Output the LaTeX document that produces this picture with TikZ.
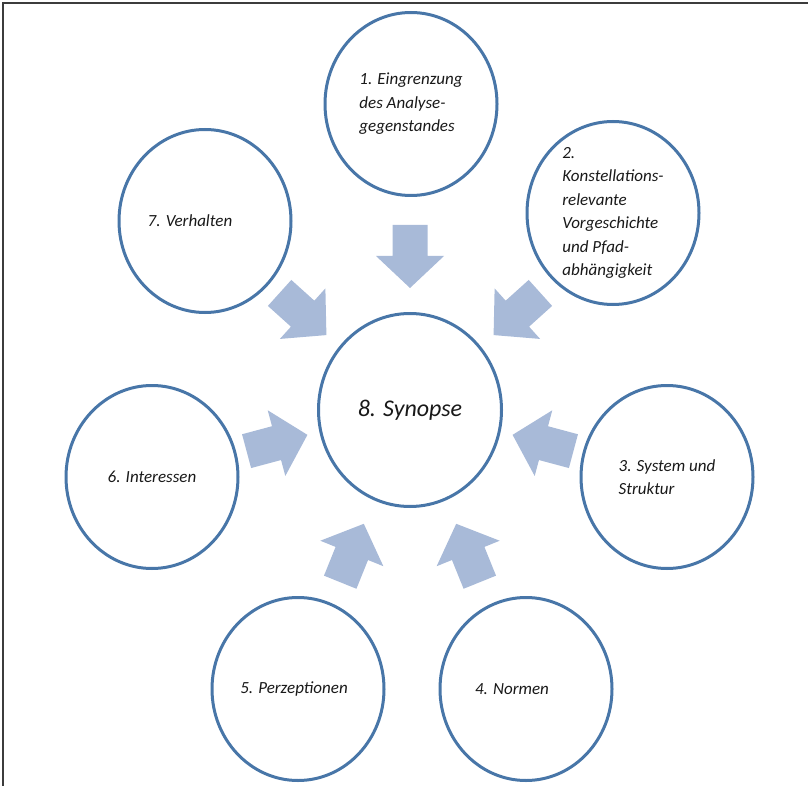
\documentclass[tikz,border=0pt]{standalone}
\usepackage{fontspec}
\setmainfont{Carlito}
\usetikzlibrary{shapes.geometric}
\definecolor{ringblue}{RGB}{72,118,168}
\definecolor{arrowblue}{RGB}{168,186,216}
\definecolor{framegray}{RGB}{60,60,60}
\tikzset{
    ring/.style={
        ellipse, draw=ringblue, line width=3pt, fill=white,
        minimum width=172pt, minimum height=183pt, inner sep=0pt,
    },
    hub/.style={
        ring, minimum width=183pt, minimum height=193pt,
    },
    txt/.style={
        font=\itshape\fontsize{17}{23.5}\selectfont, align=left, text=black!90,
    },
    pics/blockarrow/.style={
        code={
            \fill[arrowblue] (-31.5,-17.5) -- (-0.5,-17.5) -- (-0.5,-34) -- (31.5,0)
                -- (-0.5,34) -- (-0.5,17.5) -- (-31.5,17.5) -- cycle;
        }
    },
}
\begin{document}
\begin{tikzpicture}[x=1pt,y=-1pt]
    \useasboundingbox (0,0) rectangle (808,786);
    \draw[framegray,line width=2pt] (3,786) -- (3,3) -- (808,3);
    % the seven steps round the synopsis
    \node[ring,label={[txt]center:1. Eingrenzung\\des Analyse-\\gegenstandes}] (eingrenzung) at (411,104) {};
    \node[ring,label={[txt]center:2.\\Konstellations-\\relevante\\Vorgeschichte\\und Pfad-\\abhängigkeit}] (vorgeschichte) at (613,213) {};
    \node[ring,label={[txt]center:3. System und\\Struktur}] (system) at (667,477) {};
    \node[ring,label={[txt,xshift=-14pt]center:4. Normen}] (normen) at (526,689) {};
    \node[ring,label={[txt,xshift=-4pt]center:5. Perzeptionen}] (perzeption) at (298,689) {};
    \node[ring,label={[txt]center:6. Interessen}] (interessen) at (152,477) {};
    \node[ring,label={[txt,xshift=-15pt]center:7. Verhalten}] (verhalten) at (205,221) {};
    \node[hub,label={[txt,font=\itshape\fontsize{24}{28}\selectfont]center:8. Synopse}] (synopse) at (410,410) {};
    % block arrows pointing at the synopsis
    \pic[rotate=-90] (a1) at (410,256.5) {blockarrow};
    \pic[rotate=-138] (a2) at (517,314) {blockarrow};
    \pic[rotate=165] (a3) at (543,443) {blockarrow};
    \pic[rotate=112] (a4) at (468,553) {blockarrow};
    \pic[rotate=68] (a5) at (352,553) {blockarrow};
    \pic[rotate=15] (a6) at (277,443) {blockarrow};
    \pic[rotate=-42] (a7) at (303,314) {blockarrow};
\end{tikzpicture}
\end{document}
